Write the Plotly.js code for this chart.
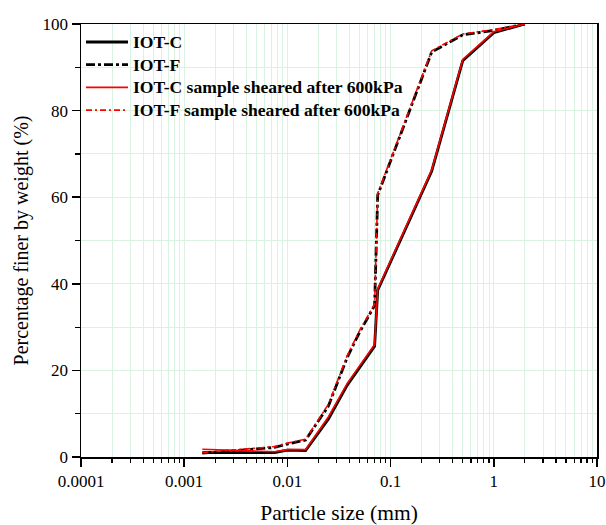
<!DOCTYPE html>
<html>
<head>
<meta charset="utf-8">
<script src="https://cdn.plot.ly/plotly-3.0.1.min.js"></script>
<style>html,body{margin:0;padding:0;background:#fff;}#chart{width:606px;height:525px;}</style>
</head>
<body>
<div id="chart"></div>
<script>
// Particle sizes (mm)
var sizesC = [0.0015, 0.0075, 0.01, 0.015, 0.025, 0.038, 0.07, 0.075, 0.25, 0.5, 1, 2];
var sizesF = [0.0015, 0.0075, 0.01, 0.015, 0.025, 0.038, 0.05, 0.07, 0.075, 0.25, 0.5, 1, 2];
// Percentage finer (%)
var iotC = [1.0, 1.0, 1.6, 1.5, 8.8, 16.6, 25.6, 38.5, 66.0, 91.5, 98.0, 100];
var iotF = [0.9, 2.2, 3.0, 3.9, 11.8, 23.0, 28.8, 35.0, 60.5, 93.5, 97.5, 98.5, 100];
var iotCsheared = [1.8, 1.2, 1.7, 1.7, 9.3, 17.0, 26.0, 38.8, 66.3, 91.8, 98.2, 100];
var iotFsheared = [1.0, 2.4, 3.2, 4.1, 12.2, 23.4, 29.2, 35.3, 60.9, 93.8, 97.7, 98.7, 100];
var names = ['IOT-C', 'IOT-F', 'IOT-C sample sheared after 600kPa', 'IOT-F sample sheared after 600kPa'];
var xTickVals = [0.0001, 0.001, 0.01, 0.1, 1, 10];
var xTickText = ['0.0001', '0.001', '0.01', '0.1', '1', '10'];
var yTickVals = [0, 20, 40, 60, 80, 100];

var font = 'Liberation Serif, Times New Roman, serif';
var grid = '#d9f2e2';

var styles = [
  {color: '#000', width: 2.8, dash: 'solid'},
  {color: '#000', width: 2.8, dash: 'dashdot'},
  {color: '#ff0000', width: 1.6, dash: 'solid'},
  {color: '#ff0000', width: 1.6, dash: '6px,3px,2px,3px'}
];
var xs = [sizesC, sizesF, sizesC, sizesF];
var ys = [iotC, iotF, iotCsheared, iotFsheared];

var traces = names.map(function (n, i) {
  return {x: xs[i], y: ys[i], name: n, mode: 'lines', line: styles[i], showlegend: false};
});

// Custom legend (paper coordinates)
var plotW = 606 - 81 - 9, plotH = 525 - 24 - 68;
var legX0 = (86 - 81) / plotW, legX1 = (128 - 81) / plotW, legTx = (131 - 81) / plotW;
var shapes = [], annotations = [];
names.forEach(function (n, i) {
  var py = 42 + i * 22.7;
  var yy = 1 - (py - 24) / plotH;
  shapes.push({type: 'line', xref: 'paper', yref: 'paper', x0: legX0, x1: legX1, y0: yy, y1: yy,
               line: {color: styles[i].color, width: styles[i].width, dash: styles[i].dash}});
  annotations.push({xref: 'paper', yref: 'paper', x: legTx, y: yy, xanchor: 'left', yanchor: 'middle',
                    text: '<b>' + n + '</b>', showarrow: false,
                    font: {family: font, size: 17.6, color: '#000'}});
});

var layout = {
  width: 606, height: 525,
  margin: {l: 81, r: 9, t: 24, b: 68},
  paper_bgcolor: '#fff', plot_bgcolor: '#fff',
  showlegend: false,
  shapes: shapes,
  annotations: annotations,
  font: {family: font, color: '#000'},
  xaxis: {
    type: 'log', range: [-4, 1],
    tickvals: xTickVals, ticktext: xTickText,
    ticks: 'outside', ticklen: 8, tickwidth: 1.5, tickcolor: '#000',
    showline: true, linecolor: '#000', linewidth: 1.5, mirror: true,
    showgrid: true, gridcolor: grid, gridwidth: 1,
    minor: {ticks: 'outside', ticklen: 4, tickwidth: 1.2, tickcolor: '#000', dtick: 'D1', showgrid: true, gridcolor: grid, gridwidth: 1},
    tickfont: {family: font, size: 17, color: '#000'},
    title: {text: 'Particle size (mm)', font: {family: font, size: 21.5, color: '#000'}, standoff: 18},
    zeroline: false, automargin: false
  },
  yaxis: {
    range: [0, 100],
    tickvals: yTickVals,
    ticks: 'outside', ticklen: 8, tickwidth: 1.5, tickcolor: '#000',
    showline: true, linecolor: '#000', linewidth: 1.5, mirror: true,
    showgrid: true, gridcolor: grid, gridwidth: 1,
    minor: {ticks: 'outside', ticklen: 5, tickwidth: 1.2, tickcolor: '#000', dtick: 10, showgrid: true, gridcolor: grid, gridwidth: 1},
    tickfont: {family: font, size: 17, color: '#000'},
    title: {text: 'Percentage finer by weight (%)', font: {family: font, size: 20, color: '#000'}, standoff: 8},
    zeroline: false, automargin: false
  }
};

Plotly.newPlot('chart', traces, layout, {displayModeBar: false, staticPlot: true});
</script>
</body>
</html>
